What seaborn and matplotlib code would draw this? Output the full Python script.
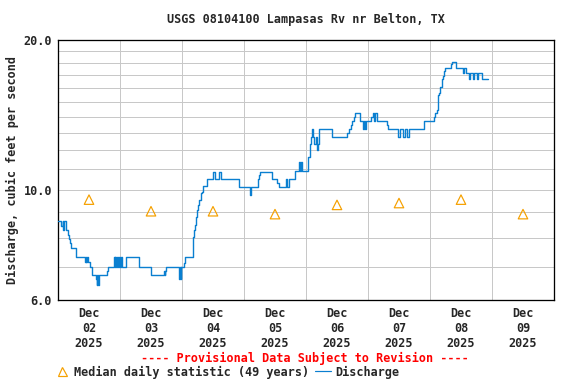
import matplotlib
matplotlib.use("Agg")
import matplotlib.pyplot as plt
import matplotlib.dates as mdates
from matplotlib.lines import Line2D
from matplotlib.ticker import FixedLocator, NullFormatter
import seaborn as sns
import pandas as pd

# ore trascorse dal 2 dic 2025 00:00 e portata (cfs)
ore = [0, 1.25, 1.75, 2.0, 2.5, 3.0, 3.9, 4.2, 4.75, 5.0, 7.0, 10.5, 10.75, 11.0, 11.25,
       11.75, 12.5, 13.25, 14.75, 15.0, 15.25, 15.5, 15.75, 19.0, 19.4, 21.75, 22.0, 22.25,
       22.5, 23.0, 23.25, 23.5, 24.0, 24.25, 24.75, 26.25, 31.5, 35.9, 41.0, 41.25, 41.5,
       41.75, 47.0, 47.25, 47.5, 47.75, 48.75, 49.0, 52.25, 52.6, 53.0, 53.4, 53.8, 54.2,
       54.6, 55.35, 55.75, 56.1, 57.7, 60.0, 60.75, 62.25, 63.0, 70.0, 74.25, 74.75, 77.4,
       77.8, 78.2, 82.8, 84.8, 85.5, 88.25, 88.75, 89.25, 91.7, 93.3, 93.6, 94.0, 94.3,
       96.8, 97.5, 98.0, 98.3, 98.7, 99.2, 99.7, 100.3, 100.6, 101.0, 106.1, 111.9, 112.6,
       113.4, 113.8, 114.6, 115.0, 116.9, 118.0, 118.5, 118.8, 119.2, 121.2, 121.9, 122.5,
       122.8, 123.5, 127.4, 127.7, 131.6, 132.5, 133.5, 134.3, 135.0, 135.9, 141.7, 145.5,
       145.9, 146.7, 147.1, 147.5, 147.9, 148.6, 149.0, 149.4, 149.8, 152.1, 152.5, 154.1,
       156.8, 157.3, 157.8, 159.1, 159.6, 160.5, 161.0, 162.0, 162.6, 164.1, 166.5]
portata = [8.64, 8.46, 8.64, 8.30, 8.64, 8.30, 8.11, 7.95, 7.80, 7.62, 7.31, 7.16, 7.31, 7.16, 7.31,
           7.16, 7.00, 6.74, 6.60, 6.43, 6.74, 6.43, 6.74, 6.87, 7.00, 7.31, 7.00, 7.31,
           7.00, 7.31, 7.00, 7.31, 7.00, 7.31, 7.00, 7.31, 7.00, 6.74, 6.87, 6.74, 6.87,
           7.00, 6.60, 7.00, 6.60, 7.00, 7.12, 7.31, 8.04, 8.30, 8.49, 8.82, 9.10, 9.32,
           9.53, 9.83, 9.91, 10.15, 10.49, 10.87, 10.49, 10.87, 10.49, 10.13, 9.76, 10.13, 10.49,
           10.70, 10.87, 10.49, 10.30, 10.13, 10.49, 10.13, 10.49, 10.90, 11.38, 10.90, 11.38, 10.90,
           11.65, 12.36, 12.78, 13.23, 12.78, 12.36, 12.78, 12.02, 12.36, 13.23, 12.75, 13.02, 13.23,
           13.49, 13.74, 14.02, 14.24, 13.74, 13.23, 13.74, 13.23, 13.74, 14.02, 14.24, 13.74,
           14.24, 13.74, 13.49, 13.23, 12.75, 13.23, 12.75, 13.23, 12.75, 13.23, 13.74, 14.02,
           14.24, 14.46, 15.50, 15.63, 16.11, 16.67, 16.93, 17.33, 17.59, 17.87, 18.09, 17.59,
           17.14, 17.59, 17.14, 16.67, 17.14, 16.67, 17.14, 16.67, 17.14, 16.67, 16.67]

# mediana giornaliera (49 anni)
giorni_mediana = ["2025-12-02", "2025-12-03", "2025-12-04", "2025-12-05",
                  "2025-12-06", "2025-12-07", "2025-12-08", "2025-12-09"]
mediana = [9.55, 9.05, 9.05, 8.93, 9.32, 9.40, 9.55, 8.93]

inizio = pd.Timestamp("2025-12-02")
df = pd.DataFrame({"Timestamp": inizio + pd.to_timedelta(ore, unit="h"), "Portata": portata})
df_med = pd.DataFrame({"Giorno": pd.to_datetime(giorni_mediana) + pd.Timedelta(hours=12),
                       "Mediana": mediana})

sns.set_style("white")
plt.rcParams["font.family"] = ["DejaVu Sans Mono"]
plt.rcParams["font.weight"] = "bold"
FS = 11.7

fig = plt.figure(figsize=(8, 384 / 72), dpi=72)
ax = fig.add_axes([58 / 576, 84 / 384, 496 / 576, 260 / 384])

sns.lineplot(data=df, x="Timestamp", y="Portata", ax=ax, color="#0a7fd0",
             linewidth=1.4, drawstyle="steps-post", zorder=3)
sns.scatterplot(data=df_med, x="Giorno", y="Mediana", ax=ax, marker="^", s=90,
                facecolor="none", edgecolor="#f5a000", linewidth=1.2, zorder=4)

ax.set_yscale("log")
ax.set_ylim(6, 20)
ax.yaxis.set_major_locator(FixedLocator([6, 10, 20]))
ax.set_yticklabels(["6.0", "10.0", "20.0"])
ax.yaxis.set_minor_locator(FixedLocator([7, 8, 9, 11, 12, 13, 14, 15, 16, 17, 18, 19]))
ax.yaxis.set_minor_formatter(NullFormatter())

ax.set_xlim(inizio, inizio + pd.Timedelta(days=8))
giorni = pd.date_range("2025-12-02", periods=8, freq="D")
ax.xaxis.set_major_locator(FixedLocator(mdates.date2num(giorni + pd.Timedelta(hours=12))))
ax.set_xticklabels([g.strftime("Dec\n%d\n%Y") for g in giorni], linespacing=1.2)
ax.xaxis.set_minor_locator(FixedLocator(mdates.date2num(giorni[1:])))

ax.grid(which="minor", color="#c8c8c8", linewidth=1)
ax.grid(which="major", axis="y", color="#c8c8c8", linewidth=1)
ax.tick_params(which="both", length=0, labelsize=FS)
ax.tick_params(axis="x", pad=7)
ax.tick_params(axis="y", pad=6)
for s in ax.spines.values():
    s.set_color("black")
    s.set_linewidth(1.3)

ax.set_xlabel("")
ax.set_ylabel("Discharge, cubic feet per second", fontsize=FS, fontweight="bold", labelpad=4)

fig.text(306 / 576, 1 - 19 / 384, "USGS 08104100 Lampasas Rv nr Belton, TX",
         ha="center", va="center", fontsize=FS, fontweight="bold")
fig.text(305 / 576, 1 - 358 / 384, "---- Provisional Data Subject to Revision ----",
         ha="center", va="center", fontsize=FS, fontweight="bold", color="red")

maniglie = [Line2D([], [], marker="^", linestyle="none", markersize=9, markerfacecolor="none",
                   markeredgecolor="#f5a000", markeredgewidth=1.2),
            Line2D([], [], color="#0a7fd0", linewidth=1.2)]
fig.legend(maniglie, ["Median daily statistic (49 years)", "Discharge"], ncol=2,
           loc="center", bbox_to_anchor=(227 / 576, 1 - 372 / 384), frameon=False,
           fontsize=FS, handlelength=1.3, handletextpad=0.4, columnspacing=0.5,
           borderpad=0, borderaxespad=0)

plt.savefig("out.png", dpi=72)
